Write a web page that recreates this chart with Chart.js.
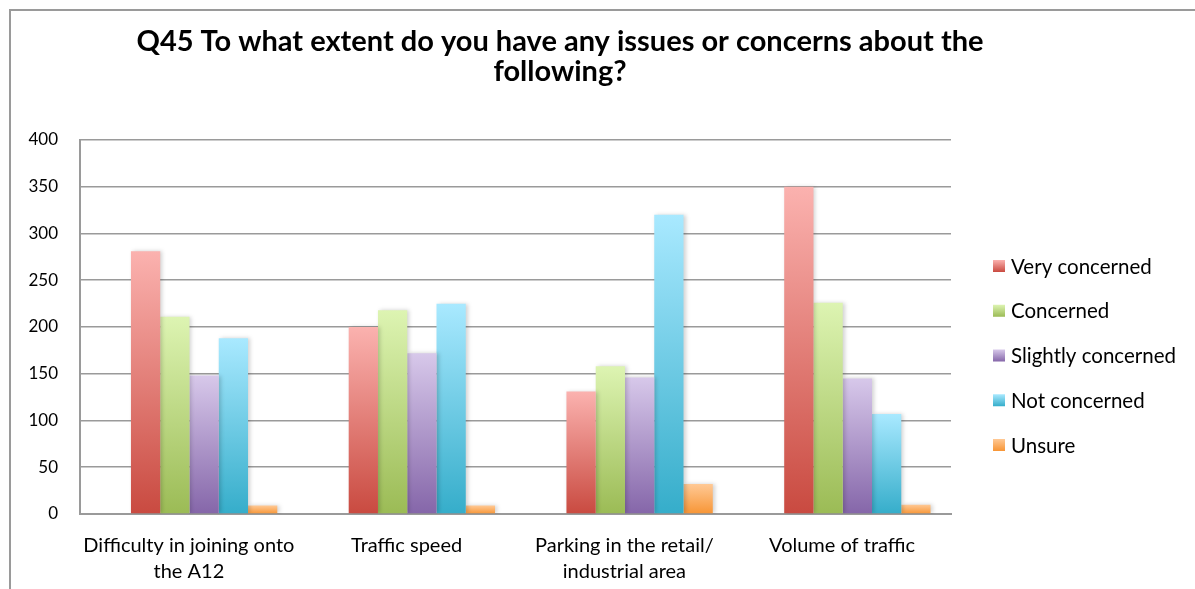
<!DOCTYPE html>
<html>
<head>
<meta charset="utf-8">
<title>Q45 chart</title>
<script src="https://cdn.jsdelivr.net/npm/chart.js@4/dist/chart.umd.min.js"></script>
<style>
    html, body { margin: 0; padding: 0; background: #fff; }
    #wrap { width: 1195px; height: 589px; position: relative; }
</style>
</head>
<body>
<div id="wrap"><canvas id="chart" width="1195" height="589"></canvas></div>
<script>
// data
var categories = [
    ['Difficulty in joining onto', 'the A12'],
    'Traffic speed',
    ['Parking in the retail/', 'industrial area'],
    'Volume of traffic'
];
var seriesNames = ['Very concerned', 'Concerned', 'Slightly concerned', 'Not concerned', 'Unsure'];
var veryConcerned = [281, 200, 131, 350];
var concerned = [211, 218, 158, 226];
var slightlyConcerned = [148, 172, 146, 145];
var notConcerned = [188, 225, 320, 107];
var unsure = [9, 9, 32, 10];
var yTicks = [0, 50, 100, 150, 200, 250, 300, 350, 400];

var titleLines = ['Q45 To what extent do you have any issues or concerns about the', 'following?'];

// light top / dark bottom of each bar
var shades = [
    ['#fbb2af', '#c94a40'],
    ['#ddf4b2', '#9bbb55'],
    ['#d7c8ea', '#8566a9'],
    ['#a9e9ff', '#35adca'],
    ['#ffc995', '#f79535']
];

var font = "Lato, 'Open Sans', sans-serif";

function barFill(i) {
    return function (context) {
        var chart = context.chart;
        var area = chart.chartArea;
        if (!area || context.type !== 'data') return shades[i][1];
        var y = chart.scales.y;
        var top = y.getPixelForValue(context.raw);
        var bottom = y.getPixelForValue(0);
        if (bottom - top < 1) top = bottom - 1;
        var g = chart.ctx.createLinearGradient(0, top, 0, bottom);
        g.addColorStop(0, shades[i][0]);
        g.addColorStop(1, shades[i][1]);
        return g;
    };
}

var allValues = [veryConcerned, concerned, slightlyConcerned, notConcerned, unsure];
var datasets = seriesNames.map(function (name, i) {
    return {
        label: name,
        data: allValues[i],
        backgroundColor: barFill(i),
        borderWidth: 0,
        categoryPercentage: 0.672,
        barPercentage: 1
    };
});

// frame, title and legend drawn around the plot
var decor = {
    id: 'decor',
    beforeDraw: function (chart) {
        var ctx = chart.ctx;
        ctx.save();
        ctx.strokeStyle = '#9a9a9a';
        ctx.lineWidth = 2;
        ctx.beginPath();
        ctx.moveTo(10, 589);
        ctx.lineTo(10, 10);
        ctx.lineTo(1195, 10);
        ctx.stroke();

        ctx.fillStyle = '#000';
        ctx.font = 'bold 29px ' + font;
        ctx.textAlign = 'center';
        ctx.textBaseline = 'middle';
        ctx.fillText(titleLines[0], 560, 42);
        ctx.fillText(titleLines[1], 560, 72);
        ctx.restore();
    },
    beforeDatasetsDraw: function (chart) {
        var ctx = chart.ctx;
        var step = chart.scales.x.width / categories.length;
        ctx.save();
        ctx.translate(step * 0.07, 0);
        ctx.shadowColor = 'rgba(0,0,0,0.18)';
        ctx.shadowBlur = 4;
        ctx.shadowOffsetX = 2;
    },
    afterDatasetsDraw: function (chart) {
        chart.ctx.restore();
    },
    afterDraw: function (chart) {
        var ctx = chart.ctx;
        ctx.save();
        ctx.font = '20.5px ' + font;
        ctx.textBaseline = 'middle';
        ctx.textAlign = 'left';
        seriesNames.forEach(function (name, i) {
            var cy = 266 + i * 44.75;
            var g = ctx.createLinearGradient(0, cy - 6, 0, cy + 6);
            g.addColorStop(0, shades[i][0]);
            g.addColorStop(1, shades[i][1]);
            ctx.fillStyle = g;
            ctx.fillRect(993, cy - 6, 12, 12);
            ctx.fillStyle = '#000';
            ctx.fillText(name, 1011, cy + 1);
        });
        ctx.restore();
    }
};

new Chart(document.getElementById('chart').getContext('2d'), {
    type: 'bar',
    data: { labels: categories, datasets: datasets },
    options: {
        responsive: false,
        animation: false,
        layout: { padding: { top: 140, left: 28, right: 244, bottom: 5 } },
        plugins: {
            legend: { display: false },
            title: { display: false },
            tooltip: { enabled: false }
        },
        scales: {
            x: {
                afterFit: function (axis) { axis.height = 70; },
                grid: { display: false, drawTicks: false },
                border: { color: '#9a9a9a', width: 2 },
                ticks: {
                    color: '#000',
                    padding: 19,
                    maxRotation: 0,
                    font: { family: font, size: 20, lineHeight: 1.3 }
                }
            },
            y: {
                min: 0,
                max: 400,
                afterBuildTicks: function (axis) {
                    axis.ticks = yTicks.map(function (v) { return { value: v }; });
                },
                afterFit: function (axis) { axis.width = 52; },
                grid: { color: '#9a9a9a', lineWidth: 1.6, drawTicks: false },
                border: { color: '#9a9a9a', width: 2 },
                ticks: {
                    color: '#000',
                    padding: 22,
                    font: { family: font, size: 17 }
                }
            }
        }
    },
    plugins: [decor]
});
</script>
</body>
</html>
